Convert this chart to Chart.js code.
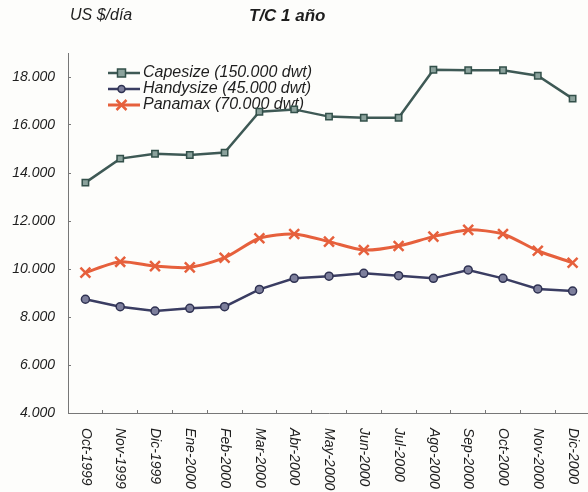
<!DOCTYPE html>
<html>
<head>
    <meta charset="utf-8">
    <title>T/C 1 año</title>
    <style>
        html, body { margin: 0; padding: 0; overflow: hidden; background: #fdfdfb; }
        #wrap { position: relative; width: 600px; height: 492px; }
        .hdr { position: absolute; top: 6px; font-family: 'Liberation Sans', Arial, sans-serif; font-style: italic; color: #1e1e1e; }
        #unit { left: 70px; font-size: 16px; }
        #title { left: 249px; font-size: 17px; font-weight: bold; }
    </style>
</head>
<body>
    <div id="wrap">
        <div class="hdr" id="unit">US $/día</div>
        <div class="hdr" id="title">T/C 1 año</div>
        <canvas id="chart"></canvas>
    </div>
    <script src="https://cdn.jsdelivr.net/npm/chart.js"></script>
    <script>
        const months = ['Oct-1999', 'Nov-1999', 'Dic-1999', 'Ene-2000', 'Feb-2000', 'Mar-2000', 'Abr-2000', 'May-2000',
                        'Jun-2000', 'Jul-2000', 'Ago-2000', 'Sep-2000', 'Oct-2000', 'Nov-2000', 'Dic-2000'];
        const capesize = [13600, 14600, 14800, 14750, 14850, 16550, 16650, 16350, 16300, 16300, 18300, 18280, 18280, 18050, 17100];
        const handysize = [8740, 8430, 8250, 8360, 8430, 9150, 9610, 9700, 9820, 9720, 9610, 9960, 9610, 9170, 9080];
        const panamax = [9850, 10300, 10120, 10070, 10470, 11280, 11460, 11140, 10790, 10960, 11350, 11630, 11460, 10760, 10260];
        const yTicks = [4000, 6000, 8000, 10000, 12000, 14000, 16000, 18000];

        const FONT = "'Liberation Sans', Arial, sans-serif";
        const textColor = '#1e1e1e';

        // format 18000 -> 18.000
        function fmt(v) {
            return String(v).replace(/\B(?=(\d{3})+(?!\d))/g, '.');
        }

        // little line+marker pictures for the legend
        function sample(color, width, marker) {
            const c = document.createElement('canvas');
            c.width = 37; c.height = 16;
            const g = c.getContext('2d');
            g.strokeStyle = color;
            g.lineWidth = width;
            g.beginPath(); g.moveTo(0, 8); g.lineTo(37, 8); g.stroke();
            marker(g);
            return c;
        }
        const legendPics = [
            sample('#3e5955', 2.5, g => {
                g.fillStyle = '#8ba29c'; g.strokeStyle = '#33504a'; g.lineWidth = 1.5;
                g.fillRect(14.5, 4, 8, 8); g.strokeRect(14.5, 4, 8, 8);
            }),
            sample('#3a3d62', 2.5, g => {
                g.fillStyle = '#7d7f9c'; g.strokeStyle = '#2f3252'; g.lineWidth = 1.5;
                g.beginPath(); g.arc(18.5, 8, 3.5, 0, Math.PI * 2); g.fill(); g.stroke();
            }),
            sample('#e6603c', 3, g => {
                g.strokeStyle = '#e6603c'; g.lineWidth = 2.5;
                g.beginPath();
                g.moveTo(13.5, 3); g.lineTo(23.5, 13);
                g.moveTo(23.5, 3); g.lineTo(13.5, 13);
                g.stroke();
            })
        ];

        // month labels read top to bottom, so they are drawn here
        const monthLabels = {
            id: 'monthLabels',
            afterDraw(chart) {
                const xs = chart.scales.x;
                const ctx = chart.ctx;
                ctx.save();
                ctx.fillStyle = textColor;
                ctx.font = 'italic 14px ' + FONT;
                ctx.textAlign = 'left';
                ctx.textBaseline = 'middle';
                months.forEach((m, i) => {
                    ctx.save();
                    ctx.translate(xs.getPixelForTick(i), xs.top + 15);
                    ctx.rotate(Math.PI / 2);
                    ctx.fillText(m, 0, 0);
                    ctx.restore();
                });
                ctx.restore();
            }
        };

        // put the legend inside the plot, top left
        const legendSpot = {
            id: 'legendSpot',
            afterLayout(chart) {
                const lg = chart.legend;
                const w = lg.width, h = lg.height;
                lg.left = 108; lg.top = 65;
                lg.right = lg.left + w; lg.bottom = lg.top + h;
            }
        };

        new Chart(document.getElementById('chart'), {
            type: 'line',
            data: {
                labels: months,
                datasets: [
                    {
                        label: 'Capesize (150.000 dwt)',
                        data: capesize,
                        borderColor: '#3e5955',
                        borderWidth: 2.5,
                        pointStyle: 'rect',
                        pointRadius: 4.5,
                        pointBackgroundColor: '#8ba29c',
                        pointBorderColor: '#33504a',
                        pointBorderWidth: 1.5
                    },
                    {
                        label: 'Handysize (45.000 dwt)',
                        data: handysize,
                        borderColor: '#3a3d62',
                        borderWidth: 2.5,
                        pointStyle: 'circle',
                        pointRadius: 4,
                        pointBackgroundColor: '#7d7f9c',
                        pointBorderColor: '#2f3252',
                        pointBorderWidth: 1.5
                    },
                    {
                        label: 'Panamax (70.000 dwt)',
                        data: panamax,
                        borderColor: '#e6603c',
                        borderWidth: 3,
                        tension: 0.25,
                        pointStyle: 'crossRot',
                        pointRadius: 7,
                        pointBorderColor: '#e6603c',
                        pointBorderWidth: 2.5
                    }
                ]
            },
            options: {
                responsive: true,
                maintainAspectRatio: false,
                animation: false,
                layout: { padding: { top: 53, right: 10, left: 0, bottom: 0 } },
                plugins: {
                    legend: {
                        position: 'chartArea',
                        align: 'start',
                        labels: {
                            usePointStyle: true,
                            pointStyleWidth: 27,
                            padding: 0,
                            color: textColor,
                            font: { family: FONT, size: 16, style: 'italic' },
                            generateLabels(chart) {
                                const items = Chart.defaults.plugins.legend.labels.generateLabels(chart);
                                items.forEach(it => { it.pointStyle = legendPics[it.datasetIndex]; });
                                return items;
                            }
                        }
                    },
                    tooltip: { enabled: false }
                },
                scales: {
                    x: {
                        offset: true,
                        grid: { offset: true, drawOnChartArea: false, tickLength: -3, color: '#777' },
                        border: { color: '#777', width: 1 },
                        ticks: { display: false },
                        afterFit(scale) { scale.height = 79; }
                    },
                    y: {
                        min: 4000,
                        max: 19000,
                        grid: { drawOnChartArea: false, tickLength: -3, color: '#777' },
                        border: { color: '#777', width: 1 },
                        afterBuildTicks(scale) { scale.ticks = yTicks.map(v => ({ value: v })); },
                        ticks: {
                            padding: 16,
                            color: textColor,
                            font: { family: FONT, size: 14, style: 'italic' },
                            callback: v => fmt(v)
                        },
                        afterFit(scale) { scale.width = 68; }
                    }
                }
            },
            plugins: [monthLabels, legendSpot]
        });
    </script>
</body>
</html>
